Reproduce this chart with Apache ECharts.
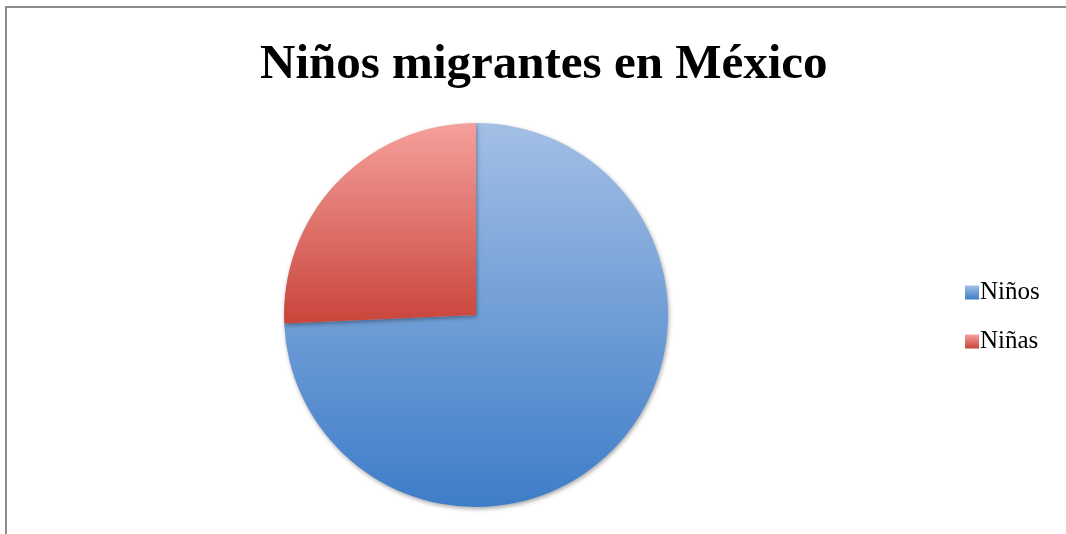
<!DOCTYPE html>
<html><head><meta charset="utf-8">
<script src="https://cdn.jsdelivr.net/npm/echarts@6/dist/echarts.min.js"></script>
<style>html,body{margin:0;padding:0;background:#fff}#c{width:1066px;height:534px;position:relative}
#frame{position:absolute;left:5px;top:6px;width:1080px;height:560px;border:2px solid #8c8c8c;box-sizing:border-box;pointer-events:none}</style>
</head><body><div id="c"></div><div id="frame"></div>
<script>
const titleText = 'Niños migrantes en México';
const categories = ['Niños', 'Niñas'];
const values = [74.3, 25.7];
const gradients = [['#a3bfe5', '#3e7dc8'], ['#f5a09c', '#c9453b']];

const chart = echarts.init(document.getElementById('c'), null, {renderer: 'canvas'});
const grad = (c) => new echarts.graphic.LinearGradient(0, 0, 0, 1, [{offset: 0, color: c[0]}, {offset: 1, color: c[1]}]);
chart.setOption({
  animation: false,
  title: {text: titleText, left: 255, top: 36,
    textStyle: {fontFamily: 'Liberation Serif', fontWeight: 'bold', fontSize: 49, color: '#000'}},
  legend: {orient: 'vertical', left: 960, top: 275, itemWidth: 14, itemHeight: 14, itemGap: 24,
    icon: 'rect', textStyle: {fontFamily: 'Liberation Serif', fontSize: 25, color: '#000', padding: [0, 0, 0, -4]},
    data: categories},
  series: [{
    type: 'pie', center: [476, 315], radius: 192, startAngle: 90, clockwise: true,
    label: {show: false}, labelLine: {show: false}, silent: true,
    itemStyle: {shadowBlur: 4, shadowColor: 'rgba(0,0,0,0.35)', shadowOffsetX: 1, shadowOffsetY: 2},
    data: categories.map((n, i) => ({name: n, value: values[i], itemStyle: {color: grad(gradients[i])}}))
  }]
});
</script></body></html>
